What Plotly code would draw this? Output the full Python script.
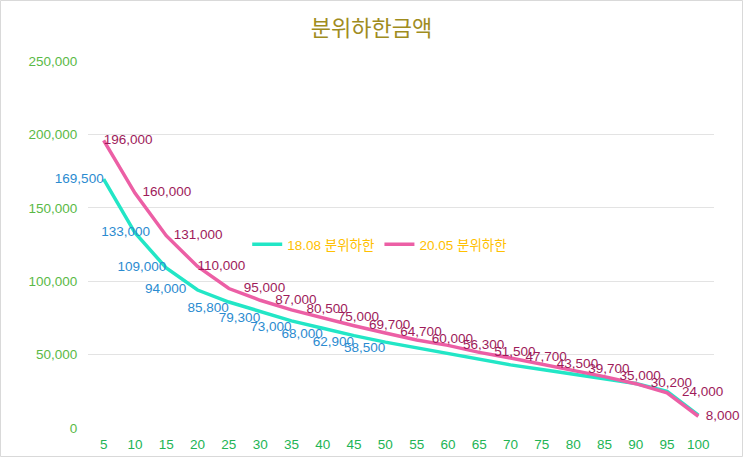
import plotly.graph_objects as go

categories = [str(v) for v in range(5, 101, 5)]
s1808 = [169500, 133000, 109000, 94000, 85800, 79300, 73000, 68000, 62900, 58500,
         54500, 50500, 47000, 43000, 39800, 36500, 33200, 30300, 25000, 8800]
s2005 = [196000, 160000, 131000, 110000, 95000, 87000, 80500, 75000, 69700, 64700,
         60000, 56300, 51500, 47700, 43500, 39700, 35000, 30200, 24000, 8000]
labeled_1808 = 10  # only the first ten points carry labels

W, H = 743, 457
ML, MR, MT, MB = 88, 29, 61, 29
NB = "\u00a0"

# label placement (text padding only)
pad1 = [0, 5, 0, 3] + [0] * (len(s1808) - 4)
pos1 = ["middle left", "middle center", "middle left", "middle left"] + \
       ["bottom left"] * (len(s1808) - 4)
text1 = [(f"{v:,}" + NB * pad1[i]) if i < labeled_1808 else ""
         for i, v in enumerate(s1808)]
pad2 = [0, 2, 2, 0] + [4] * (len(s2005) - 5) + [2]
text2 = [NB * pad2[i] + f"{v:,}" for i, v in enumerate(s2005)]

fig = go.Figure()
fig.add_trace(go.Scatter(
    x=categories, y=s1808, name="18.08 분위하한", mode="lines+text",
    line=dict(color="#22e6c6", width=3.5),
    text=text1, textposition=pos1,
    textfont=dict(color="#2b8bd0", size=13.5, family="Liberation Sans, Arial"),
    cliponaxis=False,
))
fig.add_trace(go.Scatter(
    x=categories, y=s2005, name="20.05 분위하한", mode="lines+text",
    line=dict(color="#ec5fa5", width=3.5),
    text=text2, textposition="middle right",
    textfont=dict(color="#9e1b5a", size=13.5, family="Liberation Sans, Arial"),
    cliponaxis=False,
))

pw = W - ML - MR
ph = H - MT - MB
fig.add_shape(type="rect", xref="paper", yref="paper",
              x0=-ML / pw + 0.5 / pw, x1=1 + MR / pw - 0.5 / pw,
              y0=-MB / ph + 0.5 / ph, y1=1 + MT / ph - 0.5 / ph,
              line=dict(color="#d9d9d9", width=1), layer="below")

fig.update_layout(
    width=W, height=H,
    margin=dict(l=ML, r=MR, t=MT, b=MB, autoexpand=False),
    paper_bgcolor="white", plot_bgcolor="white",
    font=dict(family="Liberation Sans, Arial, Noto Sans CJK KR"),
    title=dict(text="분위하한금액", x=0.5, xanchor="center", y=0.937, yanchor="middle",
               font=dict(size=22, color="#a08c1e", family="Noto Sans CJK KR")),
    legend=dict(orientation="h", x=0.466, y=0.5, xanchor="center", yanchor="middle",
                bgcolor="rgba(0,0,0,0)",
                font=dict(size=13.5, color="#ffc000", family="Liberation Sans, Noto Sans CJK KR")),
    showlegend=True,
)
fig.update_xaxes(type="category", range=[-0.5, len(categories) - 0.5], automargin=False,
                 showgrid=False, zeroline=False, showline=False,
                 tickfont=dict(color="#22b455", size=13.5),
                 ticks="outside", ticklen=4, tickcolor="rgba(0,0,0,0)")
fig.update_yaxes(range=[0, 250000], tickvals=[0, 50000, 100000, 150000, 200000, 250000],
                 tickformat=",", automargin=False,
                 showgrid=True, gridcolor="#e3e3e3", gridwidth=1,
                 zeroline=False, showline=False,
                 tickfont=dict(color="#5ab946", size=13.5),
                 ticks="outside", ticklen=7, tickcolor="rgba(0,0,0,0)")

fig.write_html("out.html")
